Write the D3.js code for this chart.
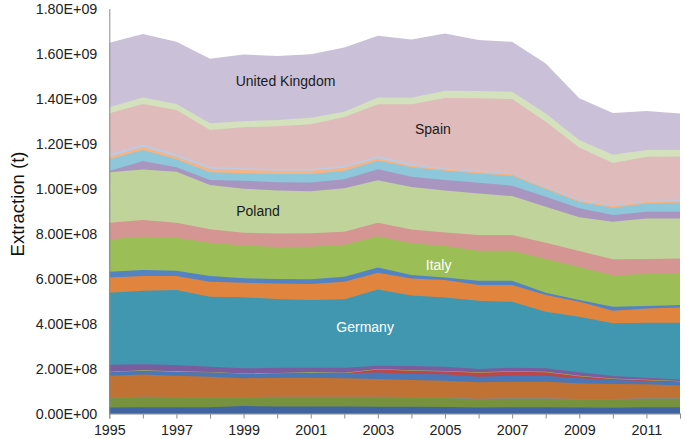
<!DOCTYPE html>
<html>
<head>
<meta charset="utf-8">
<script src="https://cdn.jsdelivr.net/npm/d3@7"></script>
<style>
  body { margin: 0; background: #fff; }
  svg { display: block; }
  text { font-family: "Liberation Sans", Arial, sans-serif; }
</style>
</head>
<body>
<svg id="chart" width="685" height="439"></svg>
<script>
// ---------- DATA (million tonnes), stacked bottom -> top ----------
const years = [1995,1996,1997,1998,1999,2000,2001,2002,2003,2004,2005,2006,2007,2008,2009,2010,2011,2012];
const xTickLabels = [1995,1997,1999,2001,2003,2005,2007,2009,2011];
const yTickValues = [0,2e8,4e8,6e8,8e8,1e9,1.2e9,1.4e9,1.6e9,1.8e9];

const layer01 = [26.7,27.6,27.6,27.6,33.3,31.1,31.1,31.1,30.2,30.2,28.9,26.7,27.6,27.6,26.7,25.8,27.6,27.6];
const layer02 = [41.3,44.4,43.6,42.7,36.9,40.9,40.9,40.9,41.8,40.9,40.0,36.4,38.2,38.2,34.7,35.6,38.2,38.2];
const layer03 = [2.5,2.5,2.5,2.5,2.5,2.5,2.5,2.5,2.5,2.5,2.5,2.5,2.5,2.5,2.5,2.5,2.5,2.5];
const layer04 = [96.9,98.7,94.2,90.7,83.6,84.4,84.4,81.8,78.7,75.1,74.2,72.9,72.9,72.9,70.2,67.1,61.3,56.0];
const layer05 = [15.6,16.0,16.9,18.7,19.1,18.7,20.9,21.3,28.9,26.7,28.4,24.9,26.7,26.7,22.2,17.8,14.7,15.6];
const layer06 = [0,0,0,0,0,0,0.5,1,13,14.7,12.4,17.8,17.8,15.6,8.9,4.4,3,2.2];
const layer07 = [2.5,2.5,2.5,2.5,2.5,2.5,2.5,2.5,2.5,2.5,2.5,2.5,2.5,2.5,2.5,2.5,2.5,2.5];
const layer08 = [30.7,26.7,28.0,23.1,22.7,23.1,20.9,22.2,15.1,18.2,18.7,13.8,15.1,14.7,15.1,10.7,8.9,6.2];
const germany = [320.4,327.1,333.3,311.1,315.6,306.2,300.9,304.0,338.7,313.3,307.5,303.5,293.3,251.5,247.1,234.2,244.4,252.4];
const layer10 = [68.4,65.3,62.2,66.7,64.9,68.9,71.1,78.2,73.8,76.4,77.8,69.8,74.2,74.2,66.7,56.0,64.0,68.4];
const layer11 = [24.9,26.7,23.6,25.3,19.6,19.1,20.9,22.2,24.0,14.7,12.0,19.1,19.1,10.2,7.6,17.8,10.2,10.2];
const italy   = [144.0,148.0,146.7,148.0,145.8,142.2,144.9,142.2,139.1,141.3,139.1,133.3,133.3,149.8,146.7,139.6,142.2,143.6];
const layer13 = [73.8,74.2,66.7,59.6,56.9,60.9,59.6,57.8,59.1,60.9,60.0,69.8,69.8,72.4,71.1,71.1,66.7,64.0];
const poland  = [224.0,225.3,226.7,196.9,195.6,190.7,186.2,192.9,189.8,188.9,187.6,185.3,173.3,160.0,149.8,167.1,180.9,177.8];
const layer15 = [5.8,36.9,19.6,22.2,35.1,36.4,39.6,40.9,48.0,45.8,46.7,47.1,45.8,44.4,40.0,29.8,29.3,29.3];
const layer16 = [52.0,48.9,35.6,34.2,33.3,36.9,37.8,37.3,37.8,41.8,40.4,41.8,44.4,34.2,28.0,32.4,37.3,40.0];
const layer17 = [11.6,13.3,11.6,14.7,14.7,14.7,14.7,13.3,10.7,6.7,5.8,5.8,7.6,5.8,5.8,7.6,7.6,7.6];
const layer18 = [12.0,12.0,10.7,10.2,7.6,7.6,7.6,8.9,10.2,8.9,4.4,5.8,5.8,4.4,5.8,4.4,4.4,4.4];
const spain   = [180.9,179.1,196.9,163.1,182.7,189.8,199.1,216.4,230.2,264.9,313.8,321.8,327.6,288.9,230.7,186.7,195.1,194.2];
const layer20 = [26.7,29.8,26.7,29.8,26.7,28.0,28.4,23.6,30.7,28.9,31.6,32.4,32.4,37.3,33.3,36.9,29.8,28.0];
const unitedKingdom = [287.1,281.3,276.9,287.1,296.4,284.4,282.7,286.2,273.8,258.7,255.1,226.7,222.2,222.2,185.3,185.3,173.3,163.1];

const seriesKeys = ["layer01","layer02","layer03","layer04","layer05","layer06","layer07","layer08",
  "Germany","layer10","layer11","Italy","layer13","Poland","layer15","layer16","layer17","layer18",
  "Spain","layer20","United Kingdom"];
const seriesValues = [layer01,layer02,layer03,layer04,layer05,layer06,layer07,layer08,
  germany,layer10,layer11,italy,layer13,poland,layer15,layer16,layer17,layer18,
  spain,layer20,unitedKingdom];

// ---------- STYLE ----------
const seriesColors = ["#3f64a0","#77923f","#7d8aa2","#bf7234","#4a77b6","#bd4748","#9bbb59","#7a5d9e",
  "#4297b0","#e1853e","#5383c3","#9bbe57","#d59593","#c0d39b","#a996c0","#8dc7d9","#f6b384","#bccae3",
  "#e0bbbb","#d3e2bc","#cac1d9"];

const areaLabels = [
  {text:"United Kingdom", year:2000.25, value:1.4756e9, color:"#1a1a1a"},
  {text:"Spain",          year:2004.64, value:1.264e9,  color:"#1a1a1a"},
  {text:"Poland",         year:1999.43, value:0.899e9,  color:"#1a1a1a"},
  {text:"Italy",          year:2004.81, value:0.660e9,  color:"#ffffff"},
  {text:"Germany",        year:2002.62, value:0.384e9,  color:"#ffffff"}
];

// ---------- CHART ----------
const svg = d3.select("#chart");
const x = d3.scaleLinear().domain([1995, 2012]).range([109.3, 680]);
const y = d3.scaleLinear().domain([0, 1.8e9]).range([413.5, 8.5]);

const rows = years.map((yr, i) => {
  const r = {year: yr};
  seriesKeys.forEach((k, j) => r[k] = seriesValues[j][i] * 1e6);
  return r;
});
const stacked = d3.stack().keys(seriesKeys)(rows);

const area = d3.area()
  .x(d => x(d.data.year))
  .y0(() => y(0))
  .y1(d => y(d[1]));

// paint from top layer down so there are no seams between layers
svg.append("g").selectAll("path")
  .data(stacked.slice().reverse())
  .join("path")
  .attr("d", area)
  .attr("fill", d => seriesColors[d.index]);

// axes
const fmt = v => {
  const s = v.toExponential(2).toUpperCase();
  return s.replace(/E([+-])(\d)$/, "E$10$2");
};

const yAxis = svg.append("g")
  .attr("transform", "translate(109.3,0)")
  .call(d3.axisLeft(y).tickValues(yTickValues).tickSize(0).tickPadding(12).tickFormat(fmt));
yAxis.select(".domain").attr("stroke", "#8c8c8c");
yAxis.selectAll("text").attr("font-size", 14.3).attr("fill", "#222");

const xAxis = svg.append("g")
  .attr("transform", "translate(0,413.5)")
  .call(d3.axisBottom(x).tickValues(years).tickSize(5).tickPadding(6.5)
    .tickFormat(d => xTickLabels.includes(d) ? String(d) : ""));
xAxis.select(".domain").attr("stroke", "#8c8c8c");
xAxis.selectAll(".tick line").attr("stroke", "#8c8c8c");
xAxis.selectAll("text").attr("font-size", 14.3).attr("fill", "#222");

// y title
svg.append("text")
  .attr("transform", "translate(17,204) rotate(-90)")
  .attr("text-anchor", "middle")
  .attr("dominant-baseline", "central")
  .attr("font-size", 18.5)
  .attr("fill", "#111")
  .text("Extraction (t)");

// area labels
svg.append("g").selectAll("text")
  .data(areaLabels)
  .join("text")
  .attr("x", d => x(d.year))
  .attr("y", d => y(d.value))
  .attr("text-anchor", "middle")
  .attr("dominant-baseline", "central")
  .attr("font-size", 14)
  .attr("fill", d => d.color)
  .text(d => d.text);
</script>
</body>
</html>
